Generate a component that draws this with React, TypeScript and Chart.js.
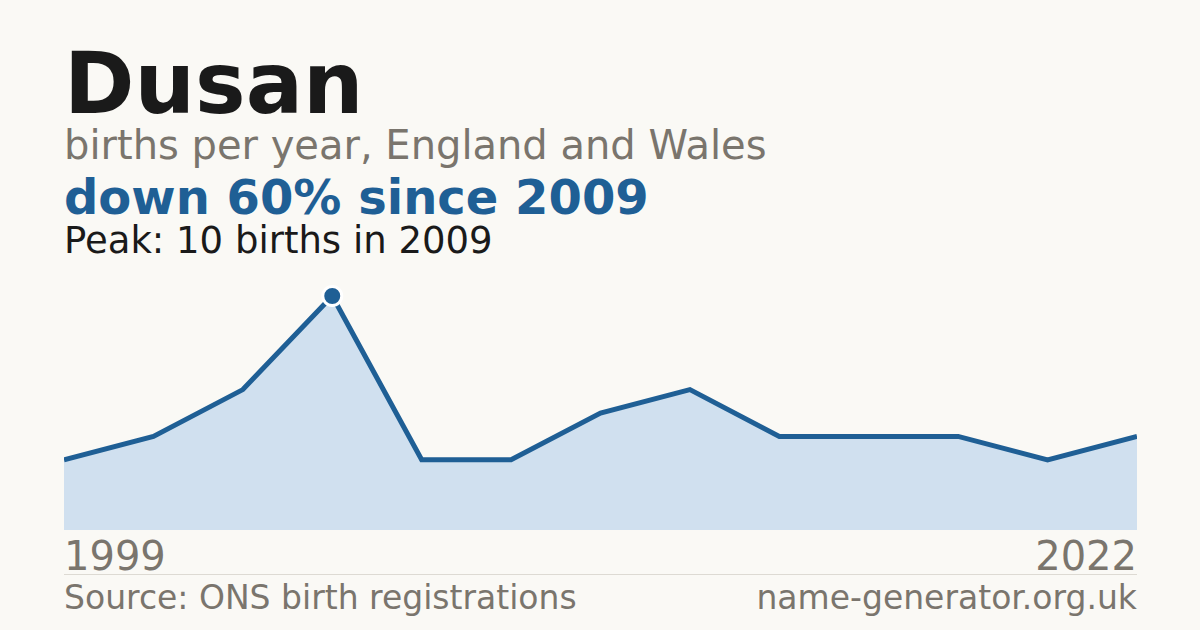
import { useEffect, useRef } from "react";
import { Chart, registerables } from "chart.js";

Chart.register(...registerables);

// Years with registrations (evenly spaced on a category axis)
const years = ["1999", "2003", "2006", "2009", "2011", "2012", "2014", "2015", "2016", "2018", "2020", "2021", "2022"];
const births = [3, 4, 6, 10, 3, 3, 5, 6, 4, 4, 4, 3, 4];
const peakIndex = 3;

const BG = "#faf9f5";
const BLUE = "#1f5f95";
const FILL = "#d0e0ef";
const GREY = "#7a756d";
const FONT = "'DejaVu Sans', sans-serif";

const BirthsChart = () => {
  const canvasRef = useRef<HTMLCanvasElement>(null);
  const chartRef = useRef<Chart | null>(null);

  useEffect(() => {
    if (!canvasRef.current) return;
    const ctx = canvasRef.current.getContext("2d");
    if (!ctx) return;

    chartRef.current = new Chart(ctx, {
      type: "line",
      data: {
        labels: years,
        datasets: [
          {
            data: births,
            borderColor: BLUE,
            borderWidth: 5,
            backgroundColor: FILL,
            fill: "origin",
            tension: 0,
            pointRadius: births.map((_, i) => (i === peakIndex ? 9.5 : 0)),
            pointHoverRadius: 0,
            pointBackgroundColor: BLUE,
            pointBorderColor: "#ffffff",
            pointBorderWidth: 3,
            clip: { left: 0, top: 20, right: 0, bottom: 0 },
          },
        ],
      },
      options: {
        animation: false,
        responsive: true,
        maintainAspectRatio: false,
        layout: { padding: { top: 16, left: 0, right: 0, bottom: 0 } },
        scales: {
          x: { display: false, offset: false },
          y: { display: false, min: 0, max: 10 },
        },
        plugins: {
          legend: { display: false },
          tooltip: { enabled: false },
        },
      },
    });

    return () => {
      chartRef.current?.destroy();
      chartRef.current = null;
    };
  }, []);

  return <canvas ref={canvasRef}></canvas>;
};

const text = (top: number, size: number, color: string, bold = false): React.CSSProperties => ({
  position: "absolute",
  top,
  left: 64,
  fontSize: size,
  lineHeight: 1,
  color,
  fontWeight: bold ? "bold" : "normal",
  whiteSpace: "nowrap",
});

export default function App() {
  return (
    <div
      style={{
        position: "absolute",
        top: 0,
        left: 0,
        width: 1200,
        height: 630,
        background: BG,
        fontFamily: FONT,
        overflow: "hidden",
      }}
    >
      <div style={text(41, 85, "#1a1a1a", true)}>Dusan</div>
      <div style={text(125, 40, GREY)}>births per year, England and Wales</div>
      <div style={text(173, 48, BLUE, true)}>down 60% since 2009</div>
      <div style={text(222, 37, "#1a1a1a")}>Peak: 10 births in 2009</div>

      <div style={{ position: "absolute", left: 64, top: 280, width: 1073, height: 250 }}>
        <BirthsChart />
      </div>

      <div style={text(536, 40, GREY)}>{years[0]}</div>
      <div style={{ ...text(536, 40, GREY), left: undefined, right: 63 }}>{years[years.length - 1]}</div>

      <div style={{ position: "absolute", left: 64, top: 574, width: 1073, height: 1, background: "#dddad3" }} />

      <div style={text(581, 33, GREY)}>Source: ONS birth registrations</div>
      <div style={{ ...text(581, 33, GREY), left: undefined, right: 63 }}>name-generator.org.uk</div>
    </div>
  );
}
